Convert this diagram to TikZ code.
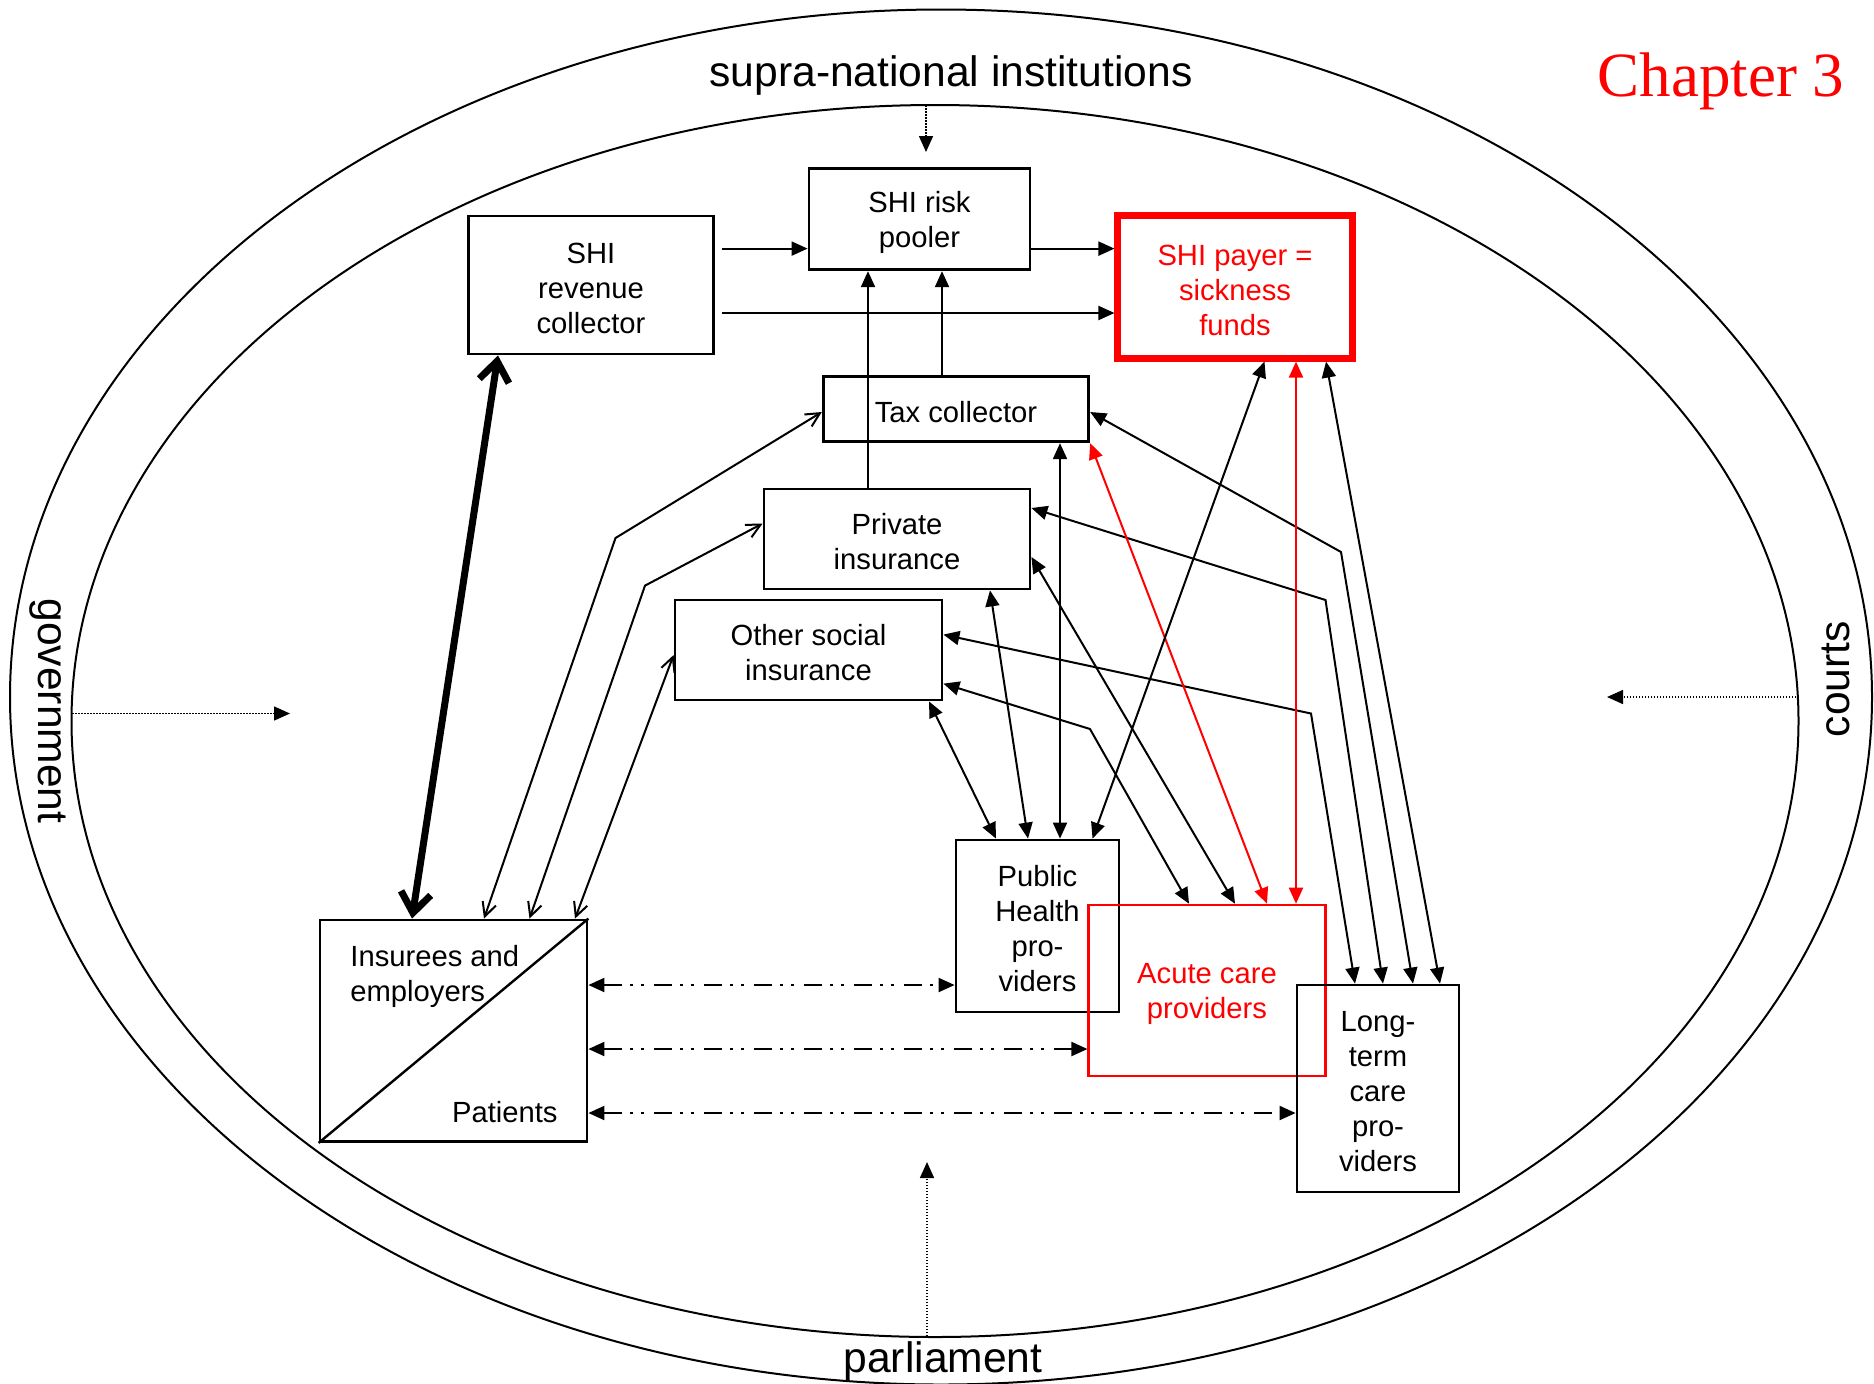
\documentclass[tikz,border=0pt]{standalone}
\usepackage{fontspec}
\setmainfont{Liberation Sans}
\newfontfamily\chapfont{Liberation Serif}
\usetikzlibrary{arrows.meta,calc}
\begin{document}
\begin{tikzpicture}[x=0.5pt,y=-0.5pt,
  >={Triangle[length=8pt,width=7pt]},
  box/.style={draw, line width=1.4pt, inner sep=0pt},
  redbox/.style={box, draw=red},
  conn/.style={line width=1pt},
  openarr/.style={line width=1pt, arrows={Straight Barb[length=7pt,width=7pt]-Straight Barb[length=7pt,width=7pt]}},
  thickarr/.style={line width=3.5pt, arrows={Straight Barb[length=10pt,width=15pt]-Straight Barb[length=10pt,width=15pt]}},
  dashdot/.style={line width=1pt, <->, dash pattern=on 9pt off 4pt on 1.5pt off 4pt on 1.5pt off 5pt},
  dotarr/.style={line width=0.75pt, ->, dash pattern=on 0.75pt off 0.75pt},
  outerlbl/.style={font=\fontsize{21.3}{25}\selectfont, inner sep=0pt},
  plain/.style={inner sep=0pt, align=center, font=\fontsize{14.6}{17.5}\selectfont}
]
\useasboundingbox (0,0) rectangle (1874,1383);
\fill[white] (0,0) rectangle (1874,1383);

% ellipses
\draw[line width=1pt] (941,697) ellipse [x radius=931, y radius=687.5];
\draw[line width=1pt] (935,721) ellipse [x radius=863.5, y radius=616];

% outer labels
\node[outerlbl] (supra) at (951,75.5) {supra-national institutions};
\node[outerlbl, rotate=-90] (gov) at (48,711) {government};
\node[outerlbl, rotate=90] (courts) at (1836,679) {courts};
\node[outerlbl] (parl) at (943,1361.5) {parliament};
\node[inner sep=0pt, text=red, font=\chapfont\fontsize{31.5}{36}\selectfont] (chap) at (1721,81) {Chapter 3};

% boxes
\node[box, minimum width=122.5pt, minimum height=69pt] (rev) at (591,285) {};
\node[box, minimum width=110.5pt, minimum height=50.75pt] (pool) at (919.5,219) {};
\node[redbox, line width=3.3pt, minimum width=117.25pt, minimum height=71.3pt] (payer) at (1235,287) {};
\node[box, minimum width=132.75pt, minimum height=32.75pt] (tax) at (956,409) {};
\node[box, minimum width=133pt, minimum height=50pt] (priv) at (897,539) {};
\node[box, minimum width=133.5pt, minimum height=50pt] (other) at (808.5,650) {};
\node[box, minimum width=81.5pt, minimum height=86pt] (ph) at (1037.5,926) {};
\node[redbox, line width=1.3pt, minimum width=118.25pt, minimum height=85.5pt] (acute) at (1207,990.5) {};
\node[box, minimum width=81pt, minimum height=103.5pt] (ltc) at (1378,1088.5) {};
\node[box, minimum width=133.5pt, minimum height=110.75pt] (ins) at (453.5,1030.75) {};
\draw[line width=1.2pt] (ins.north east) -- (ins.south west);

% box texts
\node[plain] (revt) at ([yshift=-1.5pt]rev.center) {SHI\\revenue\\collector};
\node[plain] (poolt) at ([yshift=-1.8pt]pool.center) {SHI risk\\pooler};
\node[plain, text=red] (payert) at ([yshift=-1.5pt]payer.center) {SHI payer =\\sickness\\funds};
\node[plain] (taxt) at ([yshift=-1.5pt]tax.center) {Tax collector};
\node[plain] (privt) at ([yshift=-1.5pt]priv.center) {Private\\insurance};
\node[plain] (othert) at ([yshift=-1.5pt]other.center) {Other social\\insurance};
\node[plain] (pht) at ([yshift=-1.5pt]ph.center) {Public\\Health\\pro-\\viders};
\node[plain, text=red] (acutet) at ([yshift=-1.8pt]acute.center) {Acute care\\providers};
\node[plain] (ltct) at ([yshift=-1.5pt]ltc.center) {Long-\\term\\care\\pro-\\viders};
\node[plain, anchor=west, align=left] (instxt) at (350,976) {Insurees and\\employers};
\node[plain, anchor=east] (pattxt) at (558,1112.5) {Patients};

% top flows
\draw[conn, ->, shorten <=3.75pt] ($(rev.east)+(0,-36.4)$) -- ($(pool.west)+(0,29.6)$);
\draw[conn, ->, shorten <=3.75pt] ($(rev.east)+(0,28)$) -- ($(payer.west)+(0,26)$);
\draw[conn, ->] ($(pool.east)+(0,29.6)$) -- ($(payer.west)+(0,-38.4)$);
\draw[conn, ->] ($(priv.north)+(-29,0)$) -- ($(pool.south)+(-51.5,0)$);
\draw[conn, ->] ($(tax.north)+(-14,0)$) -- ($(pool.south)+(22.5,0)$);

% thick arrow
\draw[thickarr] ($(rev.south)+(-93,0)$) -- ($(ins.north)+(-41.5,0)$);

% open arrows from insurees
\coordinate (b7) at (615.5,538);
\coordinate (b8) at (645,585.6);
\draw[openarr] ($(ins.north)+(30.5,0)$) -- (b7) -- ($(tax.west)+(0,3)$);
\draw[openarr] ($(ins.north)+(76,0)$) -- (b8) -- ($(priv.west)+(0,-15.5)$);
\draw[openarr] ($(ins.north)+(121.5,0)$) -- ($(other.west)+(0,5)$);

% to long-term care
\coordinate (b10) at (1311,713.5);
\coordinate (b11) at (1325.5,600);
\coordinate (b12) at (1341,552);
\draw[conn, <->] ($(other.east)+(0,-15.4)$) -- (b10) -- ($(ltc.north)+(-23,0)$);
\draw[conn, <->] ($(priv.east)+(0,-31)$) -- (b11) -- ($(ltc.north)+(5,0)$);
\draw[conn, <->] ($(tax.east)+(0,3)$) -- (b12) -- ($(ltc.north)+(35,0)$);
\draw[conn, <->] ($(payer.south)+(91,0)$) -- ($(ltc.north)+(62,0)$);

% to acute care
\coordinate (b14) at (1090,729);
\draw[conn, <->] ($(other.east)+(0,33.6)$) -- (b14) -- ($(acute.north)+(-18,0)$);
\draw[conn, <->] ($(priv.east)+(0,18)$) -- ($(acute.north)+(28,0)$);
\draw[conn, <->, red] (tax.south east) -- ($(acute.north)+(60,0)$);
\draw[conn, <->, red] ($(payer.south)+(61,0)$) -- ($(acute.north)+(89,0)$);

% to public health
\draw[conn, <->] ($(other.south)+(120.5,0)$) -- ($(ph.north)+(-41.5,0)$);
\draw[conn, <->] ($(priv.south)+(93,0)$) -- ($(ph.north)+(-9.5,0)$);
\draw[conn, <->] ($(tax.south)+(104,0)$) -- ($(ph.north)+(22.5,0)$);
\draw[conn, <->] ($(payer.south)+(29.5,0)$) -- ($(ph.north)+(55,0)$);

% dash-dot
\draw[dashdot] ($(ins.east)+(0,-45.75)$) -- ($(ph.west)+(0,59)$);
\draw[dashdot] ($(ins.east)+(0,18.25)$) -- ($(acute.west)+(0,58.5)$);
\draw[dashdot] ($(ins.east)+(0,82.25)$) -- ($(ltc.west)+(0,24.5)$);

% dotted influences
\coordinate (s1) at (926,105);  \coordinate (s2) at (926,152);
\coordinate (g1) at (72,713.5); \coordinate (g2) at (290,713.5);
\coordinate (k1) at (1799,697); \coordinate (k2) at (1607,697);
\coordinate (p1) at (927,1336); \coordinate (p2) at (927,1162);
\draw[dotarr] (s1) -- (s2);
\draw[dotarr] (g1) -- (g2);
\draw[dotarr] (k1) -- (k2);
\draw[dotarr] (p1) -- (p2);
\end{tikzpicture}
\end{document}
